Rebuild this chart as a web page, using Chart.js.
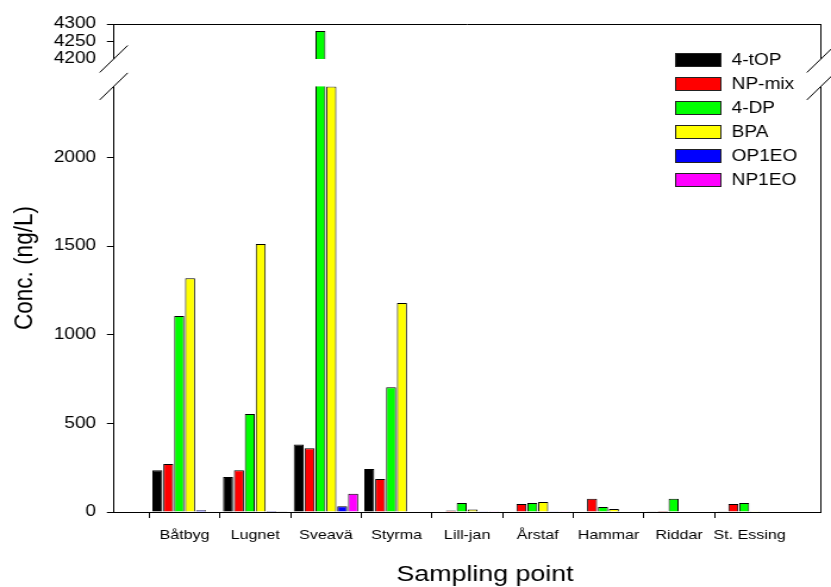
<!DOCTYPE html>
<html>
<head>
<meta charset="utf-8">
<script src="https://cdn.jsdelivr.net/npm/chart.js@4/dist/chart.umd.min.js"></script>
<style>
  html, body { margin: 0; padding: 0; background: #fff; overflow: hidden; }
  canvas { display: block; }
</style>
</head>
<body>
<!-- The drawing surface is rendered narrower and widened by CSS, giving the wide lettering of the figure. -->
<canvas id="c" width="698" height="587" style="width:831px;height:587px"></canvas>
<script>
// ---- data ----
const categories = ['Båtbyg', 'Lugnet', 'Sveavä', 'Styrma', 'Lill-jan', 'Årstaf', 'Hammar', 'Riddar', 'St. Essing'];
const seriesNames = ['4-tOP', 'NP-mix', '4-DP', 'BPA', 'OP1EO', 'NP1EO'];
const tOP   = [235, 197, 380, 243, 0, 0, 3, 2, 1];
const npMix = [271, 235, 359, 186, 8, 45, 75, 5, 45];
const dp    = [1105, 553, 4280, 703, 51, 51, 28, 75, 51];
const bpa   = [1318, 1511, 2400, 1178, 14, 56, 17, 0, 1];
const op1eo = [10, 5, 32, 3, 1, 1, 0, 0, 0];
const np1eo = [0, 2, 103, 0, 1, 1, 0, 0, 0];
const seriesValues = [tOP, npMix, dp, bpa, op1eo, np1eo];
const seriesColors = ['#000000', '#ff0000', '#00ff00', '#ffff00', '#0000ff', '#ff00ff'];
const yTickValues = [0, 500, 1000, 1500, 2000, 4200, 4250, 4300];

// ---- broken value axis: lower range 0..2400, upper range 4200..4300 ----
const LOWER_MAX = 2400, UPPER_MIN = 4200, UPPER_MAX = 4300;
const LOWER_FRACTION = 0.8721;   // share of the plot height used by the lower range
const UPPER_FRACTION = 0.0717;   // share used by the upper range

const SX = 831 / 698;            // horizontal widening applied by CSS

class BrokenLinearScale extends Chart.LinearScale {
  static id = 'brokenLinear';
  static defaults = {};
  determineDataLimits() { this.min = 0; this.max = UPPER_MAX; }
  buildTicks() { return yTickValues.map(v => ({ value: v })); }
  _edges() {
    const h = this.bottom - this.top;
    return { lowTop: this.bottom - LOWER_FRACTION * h, upBottom: this.top + UPPER_FRACTION * h };
  }
  getPixelForValue(value) {
    const { lowTop, upBottom } = this._edges();
    if (value <= LOWER_MAX) {
      return this.bottom - (value - this.min) / (LOWER_MAX - this.min) * (this.bottom - lowTop);
    }
    if (value >= UPPER_MIN) {
      return upBottom - (value - UPPER_MIN) / (this.max - UPPER_MIN) * (upBottom - this.top);
    }
    return lowTop - (value - LOWER_MAX) / (UPPER_MIN - LOWER_MAX) * (lowTop - upBottom);
  }
  getValueForPixel(pixel) {
    const { lowTop, upBottom } = this._edges();
    if (pixel >= lowTop) return this.min + (this.bottom - pixel) / (this.bottom - lowTop) * (LOWER_MAX - this.min);
    if (pixel <= upBottom) return UPPER_MIN + (upBottom - pixel) / (upBottom - this.top) * (this.max - UPPER_MIN);
    return LOWER_MAX + (lowTop - pixel) / (lowTop - upBottom) * (UPPER_MIN - LOWER_MAX);
  }
}
Chart.register(BrokenLinearScale);

Chart.defaults.font.family = "'Liberation Sans', Arial, Helvetica, sans-serif";
Chart.defaults.color = '#000';

// Gap, break marks, frame, legend and x title
const decor = {
  id: 'decor',
  beforeDraw(chart) {
    const { ctx } = chart;
    ctx.save();
    ctx.fillStyle = '#fff';
    ctx.fillRect(0, 0, chart.width, chart.height);
    ctx.restore();
  },
  afterDatasetsDraw(chart) {
    const { ctx, chartArea: a, scales: { y } } = chart;
    const gapTop = y.getPixelForValue(UPPER_MIN);
    const gapBottom = y.getPixelForValue(LOWER_MAX);
    const L = Math.round(a.left) - 0.5;
    const R = Math.round(a.right) + 0.5;
    ctx.save();
    ctx.fillStyle = '#fff';
    ctx.fillRect(a.left - 4, gapTop, a.right - a.left + 10, gapBottom - gapTop);
    ctx.strokeStyle = '#000';
    ctx.lineWidth = 1;
    ctx.beginPath();
    ctx.moveTo(L, a.top + 0.5); ctx.lineTo(R, a.top + 0.5);
    ctx.moveTo(R, a.top); ctx.lineTo(R, gapTop);
    ctx.moveTo(R, gapBottom); ctx.lineTo(R, a.bottom);
    const dx = 14 / SX, dy = 13.5;
    [L, R].forEach(x => [gapTop, gapBottom].forEach(yy => {
      ctx.moveTo(x - dx, yy + dy);
      ctx.lineTo(x + dx, yy - dy);
    }));
    ctx.stroke();
    ctx.restore();
  },
  afterDraw(chart) {
    const { ctx } = chart;
    ctx.save();
    // legend
    const boxX = 675 / SX, boxW = 45.7 / SX, boxH = 13.3, textX = 731.7 / SX;
    ctx.font = "16px 'Liberation Sans', Arial, sans-serif";
    ctx.textBaseline = 'middle';
    ctx.textAlign = 'left';
    chart.data.datasets.forEach((ds, i) => {
      const cy = 60 + i * 24;
      ctx.fillStyle = ds.backgroundColor;
      ctx.fillRect(boxX, cy - boxH / 2, boxW, boxH);
      ctx.strokeStyle = '#222';
      ctx.lineWidth = 1;
      ctx.strokeRect(Math.round(boxX) + 0.5, Math.round(cy - boxH / 2) + 0.5, Math.round(boxW), Math.round(boxH));
      ctx.fillStyle = '#000';
      ctx.fillText(ds.label, textX, cy + 1);
    });
    // x axis title
    ctx.font = "22.5px 'Liberation Sans', Arial, sans-serif";
    ctx.textAlign = 'center';
    ctx.fillText('Sampling point', 485 / SX, 575);
    ctx.restore();
  }
};

const lastIndex = categories.length + 1;

new Chart(document.getElementById('c'), {
  type: 'bar',
  data: {
    labels: ['', ...categories, ''],
    datasets: seriesNames.map((name, i) => ({
      label: name,
      data: [null, ...seriesValues[i], null],
      backgroundColor: seriesColors[i],
      borderColor: '#000',
      borderWidth: 1,
      categoryPercentage: 0.925,
      barPercentage: 0.92
    }))
  },
  options: {
    responsive: false,
    devicePixelRatio: 1,
    animation: false,
    layout: { padding: { left: 0, right: 698 - 828 / SX, top: 24, bottom: 0 } },
    plugins: { legend: { display: false }, tooltip: { enabled: false } },
    scales: {
      x: {
        type: 'category',
        offset: false,
        grid: {
          drawOnChartArea: false,
          drawTicks: true,
          tickLength: 6,
          color: c => (c.index === 0 || c.index === lastIndex) ? 'rgba(0,0,0,0)' : '#000'
        },
        border: { display: true, color: '#000', width: 1 },
        ticks: { autoSkip: false, maxRotation: 0, minRotation: 0, padding: 9, color: '#000', font: { size: 13.5 } },
        afterFit: s => { s.height = 75; }
      },
      y: {
        type: 'brokenLinear',
        position: 'left',
        grid: {
          drawOnChartArea: false,
          drawTicks: true,
          tickLength: 6,
          color: c => (c.tick && c.tick.value === UPPER_MIN) ? 'rgba(0,0,0,0)' : '#000'
        },
        border: { display: true, color: '#000', width: 1 },
        ticks: { autoSkip: false, padding: 9, color: '#000', font: { size: 16 }, callback: v => String(v) },
        title: { display: true, text: 'Conc. (ng/L)', color: '#000', font: { size: 22.5 }, padding: { top: 7, bottom: 0 } },
        afterFit: s => { s.width = 114 / SX; }
      }
    }
  },
  plugins: [decor]
});
</script>
</body>
</html>
